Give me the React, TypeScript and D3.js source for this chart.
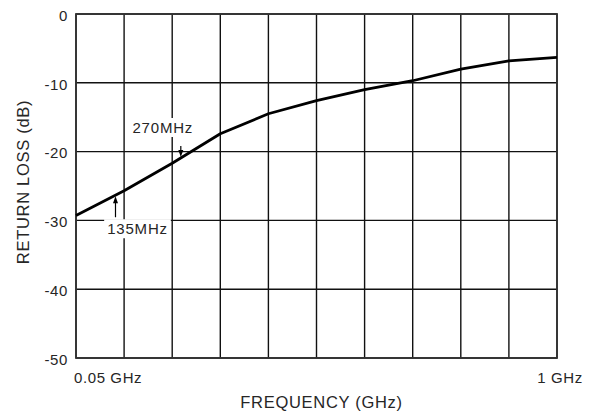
import { useRef, useEffect } from "react";
import * as d3 from "d3";

const freqs = [0.05, 0.145, 0.24, 0.335, 0.43, 0.525, 0.62, 0.715, 0.81, 0.905, 1.0];
const returnLoss = [-29.3, -25.7, -21.7, -17.4, -14.5, -12.6, -11.0, -9.7, -8.0, -6.8, -6.3];
const yTicks = [0, -10, -20, -30, -40, -50];
const xTickLabels = [{ f: 0.05, label: "0.05 GHz" }, { f: 1.0, label: "1 GHz" }];
const markers = [
  { f: 0.128, label: "135MHz", dir: "up" },
  { f: 0.257, label: "270MHz", dir: "down" },
];

const FONT = "'Liberation Sans', Arial, Helvetica, sans-serif";
const INK = "#262626";

export default function App() {
  const ref = useRef<SVGSVGElement>(null);

  useEffect(() => {
    if (!ref.current) return;
    const svg = d3.select(ref.current); svg.selectAll("*").remove();
    const W = 594, H = 415;
    const m = { top: 14, right: 37, bottom: 57, left: 76 };
    const w = W - m.left - m.right, h = H - m.top - m.bottom;
    svg.attr("width", W).attr("height", H);
    const g = svg.append("g").attr("transform", `translate(${m.left},${m.top})`);
    const x = d3.scaleLinear().domain([0.05, 1]).range([0, w]);
    const y = d3.scaleLinear().domain([-50, 0]).range([h, 0]);
    const data = freqs.map((f, i) => ({ f, v: returnLoss[i] }));

    // grid
    g.selectAll(".vg").data(freqs).join("line")
      .attr("x1", d => x(d)).attr("x2", d => x(d)).attr("y1", 0).attr("y2", h)
      .attr("stroke", "#111").attr("stroke-width", 1.4);
    g.selectAll(".hg").data(yTicks).join("line")
      .attr("x1", 0).attr("x2", w).attr("y1", d => y(d)).attr("y2", d => y(d))
      .attr("stroke", "#111").attr("stroke-width", 1.4);
    g.append("rect").attr("x", 0).attr("y", 0).attr("width", w).attr("height", h)
      .attr("fill", "none").attr("stroke", "#333").attr("stroke-width", 1.8);

    // curve
    const line = d3.line<{ f: number; v: number }>().x(d => x(d.f)).y(d => y(d.v));
    g.append("path").datum(data).attr("fill", "none").attr("stroke", "#000")
      .attr("stroke-width", 2.8).attr("stroke-linejoin", "round").attr("d", line);

    // annotations
    const interp = (f: number) => {
      const i = d3.bisectRight(freqs, f) - 1;
      const t = (f - freqs[i]) / (freqs[i + 1] - freqs[i]);
      return returnLoss[i] + t * (returnLoss[i + 1] - returnLoss[i]);
    };
    markers.forEach(mk => {
      const ax = x(mk.f), ay = y(interp(mk.f));
      const up = mk.dir === "up";
      const tx = up ? ax + 22 : ax - 18;
      const ty = up ? ay + 39 : ay - 25;
      const label = g.append("g");
      const txt = label.append("text").attr("x", tx).attr("y", ty).attr("text-anchor", "middle")
        .attr("fill", INK).attr("font-size", "15px").attr("letter-spacing", "0.8px")
        .attr("font-family", FONT).text(mk.label);
      const bb = (txt.node() as SVGTextElement).getBBox();
      label.insert("rect", "text").attr("x", bb.x - 3).attr("y", bb.y - 1)
        .attr("width", bb.width + 6).attr("height", bb.height + 2).attr("fill", "#fff");
      const tail = up ? ay + 22 : ay - 12;
      const tipOff = up ? 1 : -1;
      g.append("line").attr("x1", ax).attr("x2", ax).attr("y1", tail).attr("y2", ay + tipOff * 6)
        .attr("stroke", "#000").attr("stroke-width", 1.2);
      const s = up ? 1 : -1;
      g.append("path")
        .attr("d", `M${ax},${ay + tipOff * 1} L${ax - 2.5},${ay + s * 8} L${ax + 2.5},${ay + s * 8} Z`)
        .attr("fill", "#000");
    });

    // tick labels
    g.selectAll(".yl").data(yTicks).join("text")
      .attr("x", -8).attr("y", d => y(d) + 1.5).attr("dy", "0.35em").attr("text-anchor", "end")
      .attr("fill", INK).attr("font-size", "15px").attr("letter-spacing", "0.6px")
      .attr("font-family", FONT).text(d => d);
    g.selectAll(".xl").data(xTickLabels).join("text")
      .attr("x", d => x(d.f)).attr("y", h + 25)
      .attr("text-anchor", (_d, i) => i === 0 ? "start" : "middle")
      .attr("dx", (_d, i) => i === 0 ? -2 : 3)
      .attr("fill", INK).attr("font-size", "15px").attr("letter-spacing", "0.6px")
      .attr("font-family", FONT).text(d => d.label);

    // axis titles
    g.append("text").attr("x", w / 2 + 5).attr("y", h + 50).attr("text-anchor", "middle")
      .attr("fill", INK).attr("font-size", "16.5px").attr("letter-spacing", "0.7px")
      .attr("font-family", FONT).text("FREQUENCY (GHz)");
    g.append("text").attr("transform", `translate(${-47},${h / 2 - 4}) rotate(-90)`).attr("text-anchor", "middle")
      .attr("fill", INK).attr("font-size", "16.5px").attr("letter-spacing", "0.7px")
      .attr("font-family", FONT).text("RETURN LOSS (dB)");
  }, []);

  return (
    <div style={{ position: "absolute", left: 0, top: 0, background: "#fff" }}>
      <svg ref={ref} style={{ display: "block" }} />
    </div>
  );
}
